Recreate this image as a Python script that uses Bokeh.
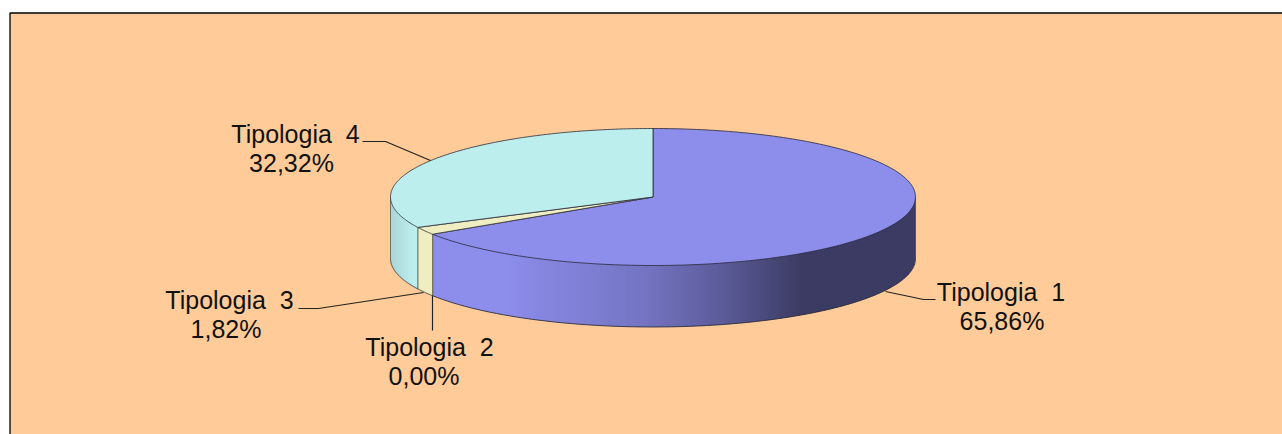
import math
import numpy as np
from bokeh.embed import file_html
from bokeh.models import Range1d
from bokeh.plotting import figure
from bokeh.resources import INLINE
from bokeh.core.properties import value

categories = ["Tipologia 1", "Tipologia 2", "Tipologia 3", "Tipologia 4"]
shares = [65.86, 0.00, 1.82, 32.32]
colors = ["#8D8DEC", "#F2F2CC", "#EEEEC2", "#BDEEEE"]

BG = "#FFCC99"
CX, CY, RX, RY, DEPTH = 652.5, 196.5, 262.5, 68.5, 61.5
FONT = value("Liberation Sans")

p = figure(width=1282, height=434, output_backend="svg", toolbar_location=None,
           x_range=Range1d(0, 1282), y_range=Range1d(434, 0),
           min_border=0, outline_line_color=None, background_fill_color="white",
           border_fill_color="white")
p.axis.visible = False
p.grid.visible = False

# Chart area with its border (right and bottom run off the picture)
p.quad(left=[9.5], right=[1290], top=[12.5], bottom=[440], fill_color=BG,
       line_color="#000000", line_width=1.3)


def rim(t):
    t = np.radians(t)
    return CX + RX * np.sin(t), CY - RY * np.cos(t)


def mix(c1, c2, f):
    a = [int(c1[i:i + 2], 16) for i in (1, 3, 5)]
    b = [int(c2[i:i + 2], 16) for i in (1, 3, 5)]
    return "#%02x%02x%02x" % tuple(round(u + (v - u) * f) for u, v in zip(a, b))


def shade(color, x):
    # lighting of the pie's wall, by horizontal position
    f = np.interp(x, [390, 412, 500, 640, 720, 800], [0.10, 0.0, 0.0, 0.17, 0.35, 0.58])
    return mix(color, "#000000", float(f))


# Slice angles, clockwise from twelve o'clock
edges = np.concatenate([[0.0], np.cumsum(shares) / sum(shares) * 360])

# Front wall, in strips that are whole pixels wide
for a, b, col in zip(edges[:-1], edges[1:], colors):
    lo, hi = max(a, 90), min(b, 270)
    if hi <= lo:
        continue
    xa, ya = rim(lo)
    xb, yb = rim(hi)
    left, right = min(xa, xb), max(xa, xb)
    xs = np.unique(np.r_[left, np.arange(math.ceil(left), right, 2), right])
    sx, sy, fills = [], [], []
    for x0, x1 in zip(xs[:-1], xs[1:]):
        # each strip overlaps the next to avoid seams
        x2 = min(right, x1 + 1)
        y0 = CY + RY * math.sqrt(max(0, 1 - ((x0 - CX) / RX) ** 2))
        y1 = CY + RY * math.sqrt(max(0, 1 - ((x2 - CX) / RX) ** 2))
        sx.append([x0, x2, x2, x0])
        sy.append([y0 - 1, y1 - 1, y1 + DEPTH, y0 + DEPTH])
        fills.append(shade(col, (x0 + x1) / 2))
    p.patches(sx[::-1], sy[::-1], fill_color=fills[::-1], line_color=None)
    # wall outlines
    ts2 = np.linspace(lo, hi, 80)
    xx, yy = rim(ts2)
    p.line(xx, yy + DEPTH, line_color="#2A2A3A", line_width=1, line_alpha=0.85)
    for t in (lo, hi):
        x0, y0 = rim(t)
        p.line([x0, x0], [y0, y0 + DEPTH], line_color="#33332A", line_width=1, line_alpha=0.6)

# Top of the pie
for a, b, col in zip(edges[:-1], edges[1:], colors):
    if b - a <= 0:
        continue
    ts = np.linspace(a, b, 200)
    xx, yy = rim(ts)
    p.patch(np.r_[CX, xx], np.r_[CY, yy], fill_color=col,
            line_color="#2A2A3A", line_width=1, line_alpha=0.8)

# Leader lines
leaders = [
    ([935, 923, 885], [299, 299, 291]),
    ([432, 432], [295, 330]),
    ([298, 318, 423], [308, 308, 292]),
    ([362, 385, 430], [141, 141, 160]),
]
for lx, ly in leaders:
    p.line(lx, ly, line_color="#222222", line_width=1.2)

# Labels
name_x = [1000.5, 429, 229, 295]
name_y = [291, 346, 299, 133]
pct_x = [1001.5, 423.5, 225.5, 291]
pct_y = [320, 375, 328, 162]
names = [c.replace(" ", " \u00a0") for c in categories]
pcts = [f"{v:.2f}".replace(".", ",") + "%" for v in shares]
p.text(name_x, name_y, text=names, text_font=FONT, text_font_size="25px",
       text_color="#111111", text_align="center", text_baseline="middle")
p.text(pct_x, pct_y, text=pcts, text_font=FONT, text_font_size="25px",
       text_color="#111111", text_align="center", text_baseline="middle")

open("out.html", "w").write(file_html(p, INLINE))
